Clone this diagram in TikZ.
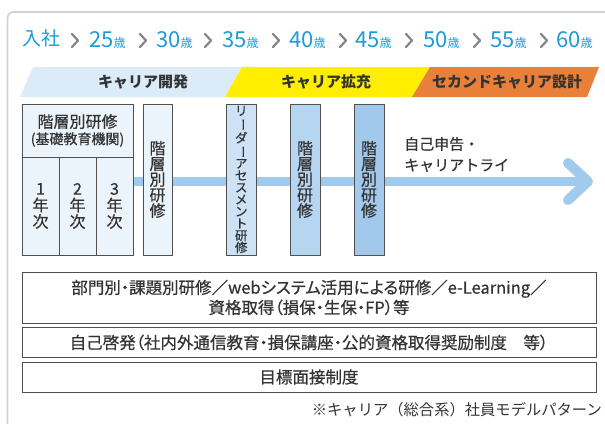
\documentclass[tikz,border=0pt]{standalone}
\usepackage{fontspec}
\usepackage{graphicx}
\setmainfont{Noto Sans CJK JP}
\newfontfamily\medf[FakeBold=0.6]{Noto Sans CJK JP}
\newfontfamily\medp[FakeBold=0.6,RawFeature=+palt]{Noto Sans CJK JP}
\usetikzlibrary{backgrounds}
\definecolor{agecol}{HTML}{1E9AD6}
\definecolor{chevcol}{HTML}{858585}
\definecolor{framecol}{HTML}{D2D2D2}
\definecolor{bandA}{HTML}{DCEBF8}
\definecolor{bandB}{HTML}{FFEE00}
\definecolor{bandC}{HTML}{E8803A}
\definecolor{txt}{HTML}{333333}
\definecolor{bordercol}{HTML}{505050}
\definecolor{fillA}{HTML}{EBF3FB}
\definecolor{fillB}{HTML}{CDE2F5}
\definecolor{fillC}{HTML}{B6D5F0}
\definecolor{fillD}{HTML}{A2C9EC}
\definecolor{arrowcol}{HTML}{A0CBEC}
\newcommand{\vbar}{\rotatebox[origin=c]{-90}{ー}}
\newcommand{\agelbl}[1]{{\fontsize{22}{22}\selectfont #1}{\fontsize{12}{12}\selectfont 歳}}
\tikzset{
  box/.style={draw=bordercol, line width=0.8pt, inner sep=0pt, align=center, text=txt},
  vtext/.style={font=\medf\fontsize{16}{15.6}\selectfont},
  agetext/.style={anchor=base west, inner sep=0pt, text=agecol},
  chev/.style={draw=chevcol, line width=2.2pt, line cap=round, line join=round},
  bandtext/.style={font=\bfseries\fontsize{15}{15}\selectfont, text=txt, inner sep=0pt},
  lowtext/.style={font=\medp\fontsize{16.5}{20}\selectfont},
}
\begin{document}
\begin{tikzpicture}[x=1pt,y=-1pt]
\useasboundingbox (0,0) rectangle (605,423);
\clip (0,0) rectangle (605,423);
% frame
\draw[framecol, line width=1.8pt, rounded corners=6pt] (7.5,12) rectangle (660,480);
% age row
\node[agetext, font=\fontsize{19}{19}\selectfont] (nyu) at (22,45.5) {入社};
\foreach \cx/\ax/\a [count=\i] in {75/89/25,143/156/30,208/222/35,276/289/40,343/355/45,409/423/50,477/490/55,544/556/60}{
  \draw[chev] (\cx-3,34) -- (\cx+3,40.5) -- (\cx-3,47);
  \node[agetext] (age\i) at (\ax,47) {\agelbl{\a}};
}
% bands
\fill[bandA] (33,67) -- (242,67) -- (225,97) -- (20,97) -- cycle;
\fill[bandB] (242,67) -- (430,67) -- (412,97) -- (225,97) -- cycle;
\fill[bandC] (430,67) -- (599,67) -- (587,97) -- (412,97) -- cycle;
\node[bandtext] (bandAt) at (143,82) {キャリア開発};
\node[bandtext] (bandBt) at (326,82) {キャリア拡充};
\node[bandtext] (bandCt) at (507,82) {セカンドキャリア設計};
% upper boxes
\node[box, fill=fillA, minimum width=111pt, minimum height=53pt, font=\medf\fontsize{16}{16.5}\selectfont] (hdr) at (77.5,130.5)
  {階層別研修\\{\fontsize{14}{14}\selectfont (基礎教育機関)}};
\node[box, fill=fillA, minimum width=37pt, minimum height=98pt, font=\medf\fontsize{16}{16.5}\selectfont] (yr1) at (40.5,206) {1\\年\\次};
\node[box, fill=fillA, minimum width=37pt, minimum height=98pt, font=\medf\fontsize{16}{16.5}\selectfont] (yr2) at (77.5,206) {2\\年\\次};
\node[box, fill=fillA, minimum width=37pt, minimum height=98pt, font=\medf\fontsize{16}{16.5}\selectfont] (yr3) at (114.5,206) {3\\年\\次};
\node[box, fill=fillA, minimum width=29pt, minimum height=151pt, vtext] (c2) at (157.5,179.5) {階\\層\\別\\研\\修};
\node[box, fill=fillB, minimum width=29.5pt, minimum height=151pt, font=\medf\fontsize{12.5}{12}\selectfont] (ld) at (241.25,179.5)
  {リ\\\vbar\\ダ\\\vbar\\ア\\セ\\ス\\メ\\ン\\ト\\研\\修};
\node[box, fill=fillC, minimum width=30pt, minimum height=151pt, vtext] (k4) at (305,179.5) {階\\層\\別\\研\\修};
\node[box, fill=fillD, minimum width=30pt, minimum height=151pt, vtext] (k5) at (369,179.5) {階\\層\\別\\研\\修};
\node[anchor=west, align=left, inner sep=0pt, text=txt, font=\medf\fontsize{15}{21}\selectfont] (self) at (404,154.5) {自己申告・\\キャリアトライ};
% arrow
\coordinate (ay) at (0,181.5);
\coordinate (atip) at (588,181.5);
\begin{scope}[on background layer]
\draw[arrowcol, line width=9.5pt] (yr3.east |- ay) -- (atip);
\draw[arrowcol, line width=10pt, line cap=round, line join=round] (568,163) -- (atip) -- (568,200);
\end{scope}
% lower boxes
\node[box, minimum width=574pt, minimum height=51pt, lowtext] (b1) at (309,297.5)
  {部門別・課題別研修／webシステム活用による研修／e-Learning／\\資格取得（損保・生保・FP）等};
\node[box, minimum width=574pt, minimum height=29.5pt, lowtext] (b2) at (309,342.5)
  {自己啓発（社内外通信教育・損保講座・公的資格取得奨励制度　等）};
\node[box, minimum width=574pt, minimum height=30pt, lowtext] (b3) at (309,377)
  {目標面接制度};
\node[anchor=east, inner sep=0pt, text=txt, font=\fontsize{15.3}{15.3}\selectfont] (note) at (602,410)
  {※キャリア（総合系）社員モデルパターン};
\end{tikzpicture}
\end{document}
